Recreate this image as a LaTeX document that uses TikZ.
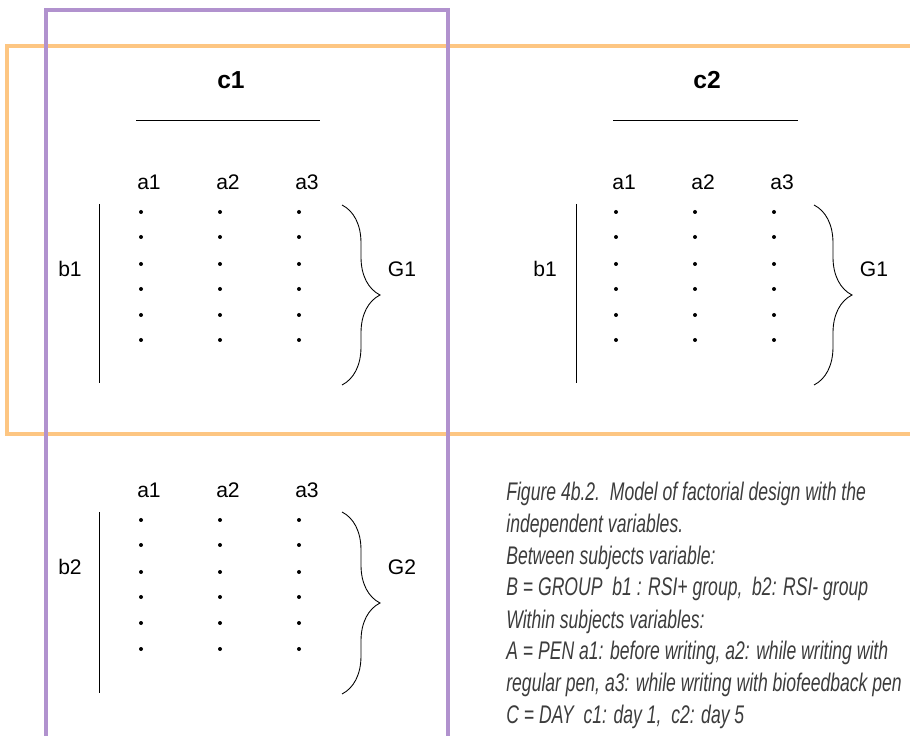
\documentclass[tikz,border=0pt]{standalone}
\usepackage{fontspec}
\setmainfont{Liberation Sans}
\newfontfamily\capfont[FakeStretch=0.69]{Liberation Sans}
\usetikzlibrary{decorations.pathreplacing}
\definecolor{boxorange}{RGB}{253,198,130}
\definecolor{boxpurple}{RGB}{177,146,206}
\definecolor{captext}{RGB}{60,60,60}
\tikzset{
  lbl/.style={font=\fontsize{12}{14}\selectfont, inner sep=0pt},
  head/.style={font=\fontsize{14}{16}\selectfont\bfseries, inner sep=0pt},
  rule/.style={line width=0.5pt},
  grp/.style={decorate, decoration={brace, amplitude=0.76cm}, line width=0.5pt},
  captxt/.style={font=\capfont\itshape\fontsize{14.5}{17}\selectfont, text=captext, anchor=base west, inner sep=0pt},
}
\begin{document}
\begin{tikzpicture}[x=0.02cm, y=-0.02cm]
        \clip (0,0) rectangle (910,736);
        % frames
        \draw[line width=2.2pt, boxorange] (7,46) rectangle (930,434);
        \draw[line width=2.2pt, boxpurple] (46,10) rectangle (448,760);

        % c1 , b1
        \node[head] (c1) at (231,80) {c1};
        \coordinate (c1l) at (136,120);
        \coordinate (c1r) at (320,120);
        \draw[rule] (c1l) -- (c1r);
        \node[lbl] (c1a1) at (149,182) {a1};
        \node[lbl] (c1a2) at (228,182) {a2};
        \node[lbl] (c1a3) at (307,182) {a3};
        \node[lbl] (b1) at (70,269) {b1};
        \coordinate (b1t) at (99,204);
        \coordinate (b1b) at (99,383);
        \draw[rule] (b1t) -- (b1b);
        \foreach \y in {212,237,264,289,315,340} {
            \fill (141,\y) circle (2);
            \fill (220,\y) circle (2);
            \fill (299,\y) circle (2);
        }
        \coordinate (g1t) at (342,205);
        \coordinate (g1b) at (342,385);
        \draw[grp] (g1t) -- (g1b);
        \node[lbl] (G1) at (402,269) {G1};

        % c2 , b1
        \node[head] (c2) at (707,80) {c2};
        \coordinate (c2l) at (613,120);
        \coordinate (c2r) at (798,120);
        \draw[rule] (c2l) -- (c2r);
        \node[lbl] (c2a1) at (624,182) {a1};
        \node[lbl] (c2a2) at (703,182) {a2};
        \node[lbl] (c2a3) at (782,182) {a3};
        \node[lbl] (c2b1) at (545,269) {b1};
        \coordinate (c2b1t) at (576,204);
        \coordinate (c2b1b) at (576,383);
        \draw[rule] (c2b1t) -- (c2b1b);
        \foreach \y in {212,237,264,289,315,340} {
            \fill (616,\y) circle (2);
            \fill (695,\y) circle (2);
            \fill (774,\y) circle (2);
        }
        \coordinate (c2g1t) at (814,205);
        \coordinate (c2g1b) at (814,385);
        \draw[grp] (c2g1t) -- (c2g1b);
        \node[lbl] (c2G1) at (874,269) {G1};

        % c1 , b2
        \node[lbl] (b2a1) at (149,490) {a1};
        \node[lbl] (b2a2) at (228,490) {a2};
        \node[lbl] (b2a3) at (307,490) {a3};
        \node[lbl] (b2) at (70,567) {b2};
        \coordinate (b2t) at (99,512);
        \coordinate (b2b) at (99,693);
        \draw[rule] (b2t) -- (b2b);
        \foreach \y in {520,545,572,597,623,649} {
            \fill (141,\y) circle (2);
            \fill (220,\y) circle (2);
            \fill (299,\y) circle (2);
        }
        \coordinate (g2t) at (342,512);
        \coordinate (g2b) at (342,694);
        \draw[grp] (g2t) -- (g2b);
        \node[lbl] (G2) at (402,567) {G2};

        % caption
        \node[captxt] (cap1) at (506,501) {Figure 4b.2.\ \ Model of factorial design with the};
        \node[captxt] (cap2) at (506,533) {independent variables.};
        \node[captxt] (cap3) at (506,564) {Between subjects variable:};
        \node[captxt] (cap4) at (506,596) {B = GROUP\ \ b1 : RSI+ group,\ \ b2: RSI- group};
        \node[captxt] (cap5) at (506,628) {Within subjects variables:};
        \node[captxt] (cap6) at (506,659) {A = PEN a1: before writing, a2: while writing with};
        \node[captxt] (cap7) at (506,691) {regular pen, a3: while writing with biofeedback pen};
        \node[captxt] (cap8) at (506,723) {C = DAY\ \ c1: day 1,\ \ c2: day 5};
\end{tikzpicture}
\end{document}
